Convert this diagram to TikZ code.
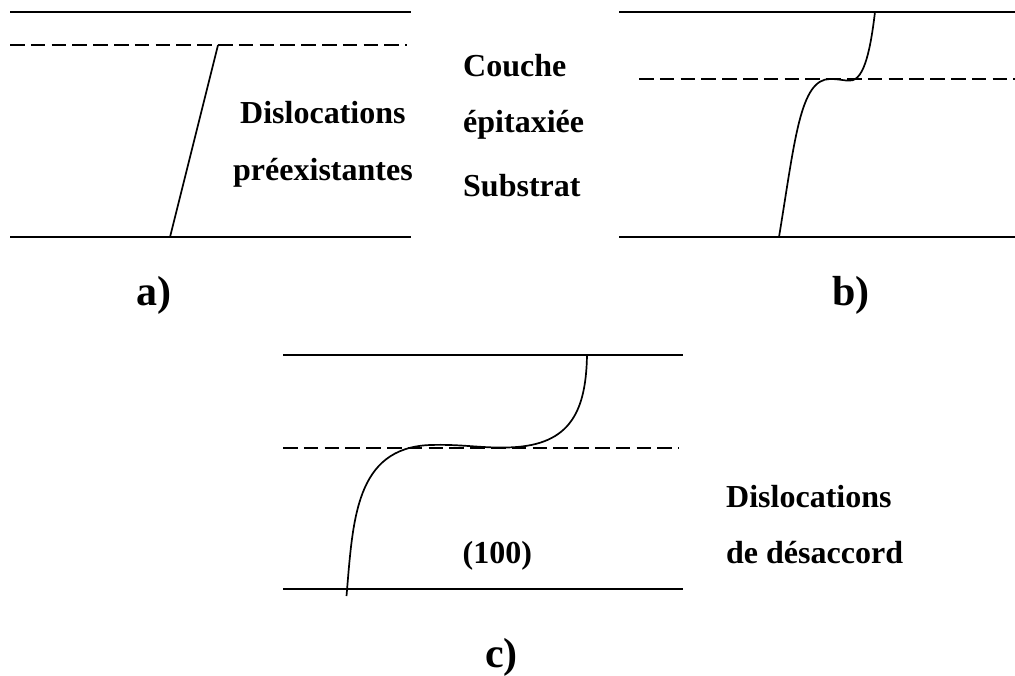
\documentclass[tikz,border=0pt]{standalone}
\usepackage{fontspec}
\setmainfont{Liberation Serif}
\begin{document}
\begin{tikzpicture}[x=1pt,y=-1pt,
  solidline/.style={line width=1.7pt,black},
  dashline/.style={line width=1.7pt,black,dash pattern=on 14.5pt off 6.3pt},
  curveline/.style={line width=1.7pt,black},
  lbl/.style={font=\bfseries\fontsize{32}{34}\selectfont,anchor=base west,inner sep=0pt},
  big/.style={font=\bfseries\fontsize{42}{44}\selectfont,anchor=base west,inner sep=0pt}]
\useasboundingbox (0,0) rectangle (1015,675);
% a
\coordinate (a1) at (10,12); \coordinate (a2) at (411,12);
\coordinate (a3) at (10,45); \coordinate (a4) at (407,45);
\coordinate (a5) at (10,237); \coordinate (a6) at (411,237);
\coordinate (a7) at (218,45); \coordinate (a8) at (170,237);
\draw[solidline] (a1) -- (a2);
\draw[dashline] (a3) -- (a4);
\draw[solidline] (a5) -- (a6);
\draw[solidline] (a7) -- (a8);
% b
\coordinate (b1) at (619,12); \coordinate (b2) at (1015,12);
\coordinate (b3) at (639,79); \coordinate (b4) at (1015,79);
\coordinate (b5) at (619,237); \coordinate (b6) at (1015,237);
\coordinate (b7) at (779,237); \coordinate (b8) at (875,12);
\draw[solidline] (b1) -- (b2);
\draw[dashline] (b3) -- (b4);
\draw[solidline] (b5) -- (b6);
\draw[curveline] (b7) .. controls (795,140) and (800,79) .. (830,79)
  .. controls (840,79) and (845,81) .. (850,80.5)
  .. controls (865,81) and (871,45) .. (b8);
% c
\coordinate (c1) at (283,355); \coordinate (c2) at (683,355);
\coordinate (c3) at (283,448); \coordinate (c4) at (679,448);
\coordinate (c5) at (283,589); \coordinate (c6) at (683,589);
\coordinate (c7) at (346.5,596); \coordinate (c8) at (587,355);
\draw[solidline] (c1) -- (c2);
\draw[dashline] (c3) -- (c4);
\draw[solidline] (c5) -- (c6);
\draw[curveline] (c7) .. controls (353,520) and (355,448) .. (430,445)
  .. controls (460,444) and (480,448) .. (505,447.5)
  .. controls (568,447) and (586,415) .. (c8);
% labels
\node[lbl] (t1) at (240,123.5) {Dislocations};
\node[lbl] (t2) at (233,180) {préexistantes};
\node[lbl] (t3) at (463,76) {Couche};
\node[lbl] (t4) at (463,132) {épitaxiée};
\node[lbl] (t5) at (463,196.5) {Substrat};
\node[lbl] (t6) at (726,507) {Dislocations};
\node[lbl] (t7) at (726,563.5) {de désaccord};
\node[lbl] (t8) at (462.5,563.5) {(100)};
\node[big] (ta) at (136,305) {a)};
\node[big] (tb) at (832,305) {b)};
\node[big] (tc) at (485,667) {c)};
\end{tikzpicture}
\end{document}
